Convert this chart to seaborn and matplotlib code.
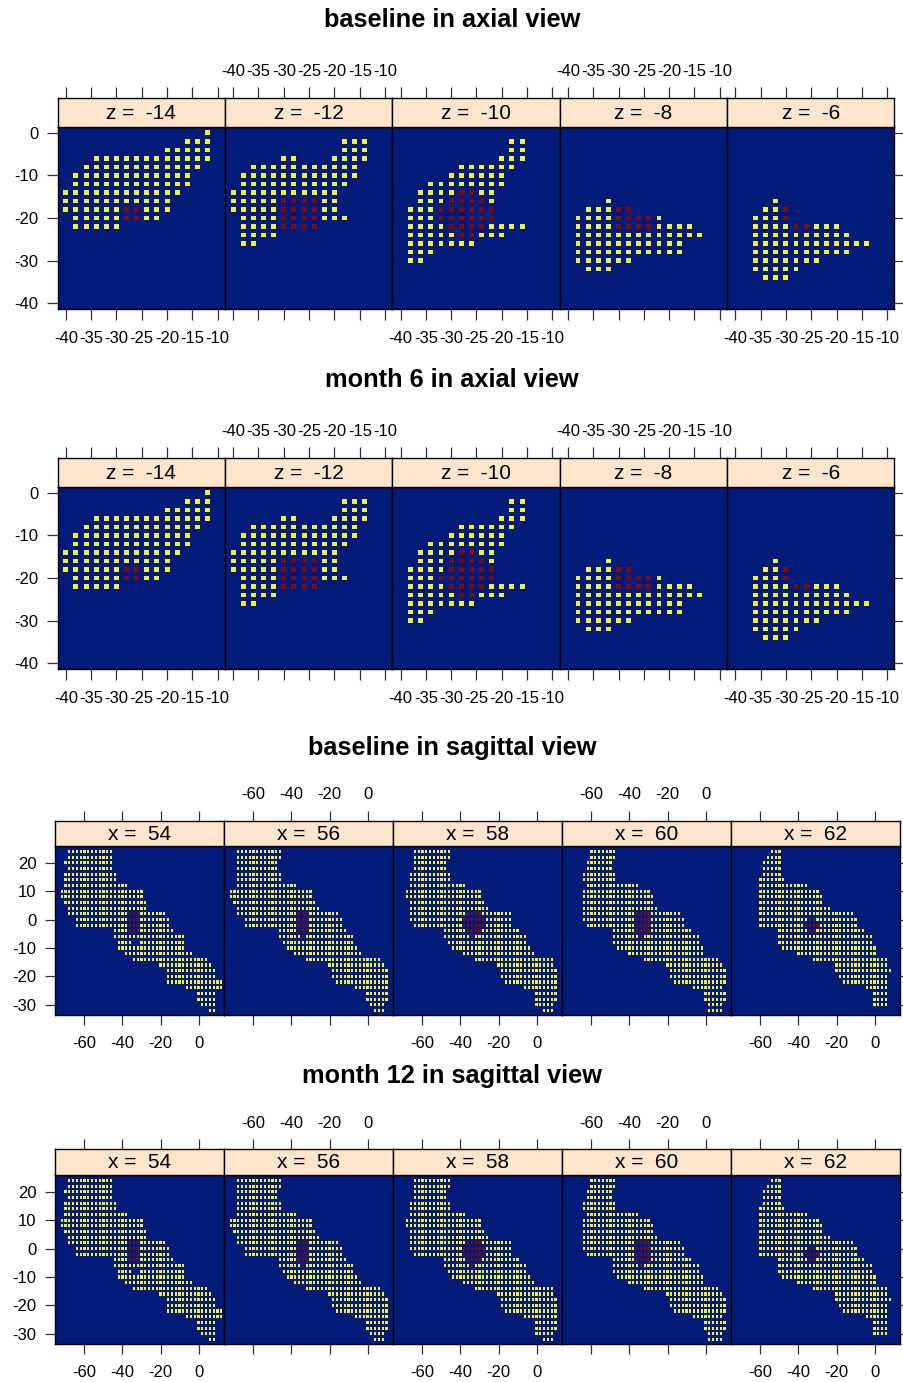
import numpy as np
import pandas as pd
import matplotlib
matplotlib.use("Agg")
import matplotlib.pyplot as plt
import seaborn as sns
from matplotlib.path import Path

sns.set_theme(style="white")
plt.rcParams["font.family"] = ["Liberation Sans", "DejaVu Sans"]
plt.rcParams["text.color"] = "black"
plt.rcParams["xtick.color"] = "black"
plt.rcParams["ytick.color"] = "black"

# ---------------- data: run-length rows (y, x_from, x_to), step 2 ----------------
# Axial view, slices z
axial_z = [-14, -12, -10, -8, -6]
ax_tissue_z14 = [(0, -12, -12), (-2, -16, -12), (-4, -20, -12), (-6, -34, -12), (-8, -36, -14),
                 (-10, -38, -16), (-12, -38, -16), (-14, -40, -18), (-16, -40, -20), (-18, -40, -20),
                 (-20, -38, -22), (-22, -38, -30)]
ax_lesion_z14 = [(-18, -28, -26), (-20, -28, -26)]
ax_tissue_z12 = [(-2, -18, -14), (-4, -18, -14), (-6, -30, -28), (-6, -20, -14), (-8, -36, -16),
                 (-10, -38, -16), (-12, -38, -18), (-14, -40, -20), (-16, -40, -20), (-18, -40, -20),
                 (-20, -38, -18), (-22, -38, -24), (-24, -38, -32), (-26, -38, -36)]
ax_lesion_z12 = [(-16, -30, -24), (-18, -30, -24), (-20, -30, -24), (-22, -30, -24)]
ax_tissue_z10 = [(-2, -18, -16), (-4, -18, -16), (-6, -20, -16), (-8, -28, -18), (-10, -30, -20),
                 (-12, -34, -20), (-14, -36, -22), (-16, -36, -22), (-18, -38, -22), (-20, -38, -22),
                 (-22, -38, -16), (-24, -38, -20), (-26, -38, -26), (-28, -38, -34), (-30, -38, -36)]
ax_lesion_z10_base = [(-14, -28, -26), (-16, -30, -24), (-18, -32, -22), (-20, -32, -22),
                      (-22, -30, -24), (-24, -28, -26)]
ax_lesion_z10_m6 = [(-14, -28, -26), (-16, -30, -24), (-18, -30, -22), (-20, -32, -22),
                    (-22, -30, -24), (-24, -28, -26)]
ax_tissue_z8 = [(-16, -32, -32), (-18, -36, -28), (-20, -38, -22), (-22, -38, -16), (-24, -38, -14),
                (-26, -38, -18), (-28, -38, -18), (-30, -38, -28), (-32, -36, -32)]
ax_lesion_z8 = [(-18, -30, -28), (-20, -30, -24), (-22, -30, -24)]
ax_tissue_z6 = [(-16, -32, -32), (-18, -34, -30), (-20, -36, -30), (-22, -36, -20), (-24, -36, -18),
                (-26, -36, -14), (-28, -36, -18), (-30, -36, -24), (-32, -36, -28), (-34, -34, -30)]
ax_lesion_z6 = [(-18, -30, -30), (-20, -30, -30), (-22, -28, -26)]

# Sagittal view, slices x
sag_x = [54, 56, 58, 60, 62]
sg_tissue_x54 = [(24, -68, -46), (22, -68, -46), (20, -70, -46), (18, -68, -46), (16, -70, -44),
                 (14, -70, -44), (12, -70, -38), (10, -72, -30), (8, -72, -30), (6, -70, -28),
                 (4, -68, -28), (2, -68, -18), (0, -64, -16), (-2, -64, -16), (-4, -44, -14),
                 (-6, -44, -8), (-8, -42, -36), (-8, -30, -8), (-10, -42, -8), (-12, -38, -4),
                 (-14, -34, 4), (-16, -20, 6), (-18, -16, 8), (-20, -16, 8), (-22, -16, 12),
                 (-24, -6, 12), (-26, 0, 8), (-28, 0, 8), (-30, 2, 8), (-32, 6, 8)]
sg_lesion_x54 = [(2, -36, -32), (0, -36, -32), (-2, -36, -32), (-4, -36, -32)]
sg_tissue_x56 = [(24, -68, -46), (22, -68, -46), (20, -68, -48), (18, -68, -48), (16, -68, -46),
                 (14, -68, -46), (12, -68, -38), (10, -72, -30), (8, -72, -30), (6, -70, -28),
                 (4, -68, -26), (2, -68, -16), (0, -64, -14), (-2, -64, -14), (-4, -46, -12),
                 (-6, -46, -8), (-8, -44, -8), (-10, -42, -6), (-12, -38, -4), (-14, -32, 6),
                 (-16, -20, 8), (-18, -18, 10), (-20, -18, 10), (-22, -16, 10), (-24, -6, 10),
                 (-26, 0, 10), (-28, 0, 10), (-30, 2, 8), (-32, 4, 8)]
sg_lesion_x56 = [(2, -36, -32), (0, -36, -32), (-2, -36, -32), (-4, -36, -32), (-6, -34, -34)]
sg_tissue_x58 = [(24, -64, -46), (22, -64, -46), (20, -64, -48), (18, -64, -48), (16, -66, -46),
                 (14, -66, -46), (12, -66, -38), (10, -68, -30), (8, -68, -30), (6, -66, -28),
                 (4, -66, -26), (2, -66, -14), (0, -66, -14), (-2, -64, -14), (-4, -48, -10),
                 (-6, -48, -6), (-8, -46, -6), (-10, -44, -4), (-12, -38, -2), (-14, -32, 8),
                 (-16, -20, 8), (-18, -18, 10), (-20, -18, 10), (-22, -16, 10), (-24, -6, 10),
                 (-26, 0, 10), (-28, 0, 10), (-30, 0, 8), (-32, 4, 8)]
sg_lesion_x58 = [(2, -36, -30), (0, -38, -28), (-2, -38, -28), (-4, -36, -30), (-6, -34, -34)]
sg_tissue_x60 = [(24, -60, -48), (22, -60, -48), (20, -62, -50), (18, -62, -50), (16, -64, -48),
                 (14, -64, -48), (12, -62, -36), (10, -64, -30), (8, -64, -28), (6, -64, -28),
                 (4, -64, -26), (2, -64, -14), (0, -64, -12), (-2, -62, -12), (-4, -48, -8),
                 (-6, -48, -4), (-8, -48, -4), (-10, -46, -2), (-12, -40, -2), (-14, -32, 6),
                 (-16, -20, 8), (-18, -18, 10), (-20, -18, 10), (-22, -16, 10), (-24, -6, 8),
                 (-26, 0, 10), (-28, 0, 10), (-30, 2, 8), (-32, 2, 8)]
sg_lesion_x60 = [(2, -36, -30), (0, -36, -30), (-2, -36, -30), (-4, -36, -30), (-6, -34, -34)]
sg_tissue_x62 = [(24, -54, -50), (22, -56, -50), (20, -58, -50), (18, -58, -50), (16, -58, -50),
                 (14, -60, -48), (12, -60, -36), (10, -60, -30), (8, -60, -28), (6, -60, -28),
                 (4, -60, -24), (2, -60, -12), (0, -60, -10), (-2, -60, -10), (-4, -50, -6),
                 (-6, -50, -2), (-8, -50, -2), (-10, -48, 0), (-12, -40, 0), (-14, -32, 6),
                 (-16, -20, 6), (-18, -20, 8), (-20, -18, 6), (-22, -16, 6), (-24, -4, 6),
                 (-26, 0, 6), (-28, 0, 6), (-30, 0, 6)]
sg_lesion_x62 = [(0, -34, -32), (-2, -36, -30), (-4, -34, -32)]

axial_xticks = [-40, -35, -30, -25, -20, -15, -10]
axial_yticks = [0, -10, -20, -30, -40]
sag_xticks = [-60, -40, -20, 0]
sag_yticks = [20, 10, 0, -10, -20, -30]

titles = ["baseline in axial view", "month 6 in axial view",
          "baseline in sagittal view", "month 12 in sagittal view"]

# ---------------- styling ----------------
NAVY = "#031b78"
YEL = "#eef23a"
RED = "#7d0a0a"
PEACH = "#ffe5cc"
TICKC = "#333333"


def cells(tissue, lesion):
    red = set()
    for y, a, b in lesion:
        for x in range(a, b + 1, 2):
            red.add((x, y))
    rows = []
    for y, a, b in tissue:
        for x in range(a, b + 1, 2):
            rows.append((x, y, "lesion" if (x, y) in red else "tissue"))
    return pd.DataFrame(rows, columns=["x", "y", "status"])


axial_base = [cells(ax_tissue_z14, ax_lesion_z14), cells(ax_tissue_z12, ax_lesion_z12),
              cells(ax_tissue_z10, ax_lesion_z10_base), cells(ax_tissue_z8, ax_lesion_z8),
              cells(ax_tissue_z6, ax_lesion_z6)]
axial_m6 = [cells(ax_tissue_z14, ax_lesion_z14), cells(ax_tissue_z12, ax_lesion_z12),
            cells(ax_tissue_z10, ax_lesion_z10_m6), cells(ax_tissue_z8, ax_lesion_z8),
            cells(ax_tissue_z6, ax_lesion_z6)]
sag_all = [cells(sg_tissue_x54, sg_lesion_x54), cells(sg_tissue_x56, sg_lesion_x56),
           cells(sg_tissue_x58, sg_lesion_x58), cells(sg_tissue_x60, sg_lesion_x60),
           cells(sg_tissue_x62, sg_lesion_x62)]

W, H = 904, 1382
fig = plt.figure(figsize=(W / 100, H / 100), dpi=100)
fig.patch.set_facecolor("white")

square = "s"
rect = Path([(-0.36, -0.5), (0.36, -0.5), (0.36, 0.5), (-0.36, 0.5), (-0.36, -0.5)],
            [Path.MOVETO, Path.LINETO, Path.LINETO, Path.LINETO, Path.CLOSEPOLY])


def block(title, title_y, data, labels, prefix, left, right, strip_top, ptop, pbot,
          xlim, ylim, xticks, yticks, marker, msize, ticklen, aa):
    n = len(data)
    pw = (right - left) / n
    fig.text(0.5, 1 - title_y / H, title, ha="center", va="center",
             fontsize=18.3, fontweight="bold", color="black")
    for i, (df, lab) in enumerate(zip(data, labels)):
        x0 = left + i * pw
        ax = fig.add_axes([x0 / W, 1 - pbot / H, pw / W, (pbot - ptop) / H])
        ax.set_facecolor(NAVY)
        sns.scatterplot(data=df, x="x", y="y", hue="status",
                        palette={"tissue": YEL, "lesion": RED},
                        marker=marker, s=msize, linewidth=0, legend=False, ax=ax,
                        antialiased=aa)
        ax.set_xlim(*xlim)
        ax.set_ylim(*ylim)
        ax.set_xlabel("")
        ax.set_ylabel("")
        ax.set_xticks(xticks)
        ax.set_yticks(yticks)
        ax.set_xticklabels([str(v) for v in xticks] if i % 2 == 0 else [])
        ax.set_yticklabels([str(v) for v in yticks] if i == 0 else [])
        ax.tick_params(axis="both", direction="out", length=ticklen, width=0.9,
                       color=TICKC, labelcolor="black", labelsize=12, pad=6)
        ax.tick_params(axis="x", bottom=True, top=False, pad=8)
        ax.tick_params(axis="y", left=(i == 0), right=(i == n - 1), labelleft=(i == 0),
                       labelright=False)
        for sp in ax.spines.values():
            sp.set_color("black")
            sp.set_linewidth(1.0)
        # strip with top ticks
        sx = fig.add_axes([x0 / W, 1 - ptop / H, pw / W, (ptop - strip_top) / H])
        sx.set_facecolor(PEACH)
        sx.set_xlim(*xlim)
        sx.set_ylim(0, 1)
        sx.set_yticks([])
        sx.set_xticks(xticks)
        sx.xaxis.tick_top()
        sx.set_xticklabels([str(v) for v in xticks] if i % 2 == 1 else [])
        sx.tick_params(axis="x", direction="out", length=ticklen, width=0.9,
                       color=TICKC, labelcolor="black", labelsize=12, pad=6)
        for sp in sx.spines.values():
            sp.set_color("black")
            sp.set_linewidth(1.0)
        sx.text(0.5, 0.47, f"{prefix} =  {lab}", transform=sx.transAxes,
                ha="center", va="center", fontsize=15, color="black")


block(titles[0], 20, axial_base, axial_z, "z", 57.7, 894.5, 98, 127, 309,
      (-41.6, -8.55), (-41.4, 1.4), axial_xticks, axial_yticks, square, 12.5, 7.9, True)
block(titles[1], 380, axial_m6, axial_z, "z", 57.7, 894.5, 458, 487, 669,
      (-41.6, -8.55), (-41.4, 1.4), axial_xticks, axial_yticks, square, 12.5, 7.9, True)
block(titles[2], 748, sag_all, sag_x, "x", 55, 900, 820.7, 846, 1015,
      (-75.5, 13.4), (-33.6, 25.9), sag_xticks, sag_yticks, rect, 5.0, 7.2, False)
block(titles[3], 1076, sag_all, sag_x, "x", 55, 900, 1149, 1175, 1344,
      (-75.5, 13.4), (-33.6, 25.9), sag_xticks, sag_yticks, rect, 5.0, 7.2, False)

fig.savefig("out.png", dpi=100)
